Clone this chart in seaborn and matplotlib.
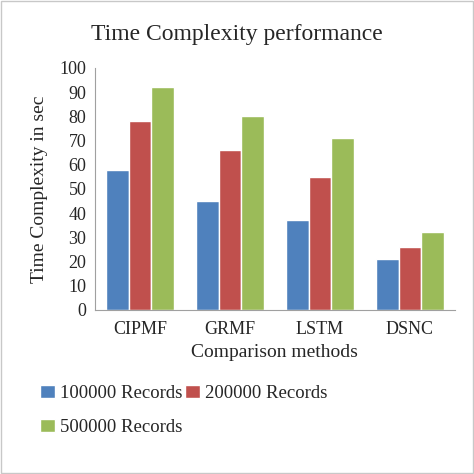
import matplotlib
matplotlib.use('Agg')
import matplotlib.pyplot as plt
import seaborn as sns
import pandas as pd

methods = ['CIPMF', 'GRMF', 'LSTM', 'DSNC']
series = ['100000 Records', '200000 Records', '500000 Records']
rec_100k = [58, 45, 37, 21]
rec_200k = [78, 66, 55, 26]
rec_500k = [92, 80, 71, 32]

df = pd.DataFrame({'method': methods * 3,
                   'series': [s for s in series for _ in methods],
                   'value': rec_100k + rec_200k + rec_500k})

sns.set_style('white')
plt.rcParams['font.family'] = ['Liberation Serif', 'DejaVu Serif']

fig = plt.figure(figsize=(4.74, 4.74), dpi=100)
ax = fig.add_axes([0.2, 0.346, 0.76, 0.511])
sns.barplot(data=df, x='method', y='value', hue='series', ax=ax,
            palette=['#4F81BD', '#C0504D', '#9BBB59'], width=0.75, saturation=1)
ax.set_ylim(0, 100)
ax.set_yticks(range(0, 101, 10))
ax.tick_params(labelsize=13, length=0)
ax.tick_params(axis='x', pad=8)
ax.tick_params(axis='y', pad=6)
ax.set_xlabel('Comparison methods', fontsize=14, labelpad=4)
ax.set_ylabel('Time Complexity in sec', fontsize=14, labelpad=8)
for s in ['top', 'right']:
    ax.spines[s].set_visible(False)
for s in ['left', 'bottom']:
    ax.spines[s].set_color('#A0A0A0')
fig.text(0.5, 0.915, 'Time Complexity performance', ha='center', fontsize=17)
h, l = ax.get_legend_handles_labels()
order = [0, 2, 1]
ax.legend([h[i] for i in order], [l[i] for i in order], loc='upper left',
          bbox_to_anchor=(-0.2, -0.24), ncol=2, frameon=False,
          fontsize=13.5, handlelength=0.8, handletextpad=0.3, columnspacing=0.1,
          labelspacing=0.9)
fig.patches.append(plt.Rectangle((0.002, 0.002), 0.996, 0.996, transform=fig.transFigure,
                                 fill=False, edgecolor='#C8C8C8', lw=1))
fig.savefig('out.png', dpi=100)
